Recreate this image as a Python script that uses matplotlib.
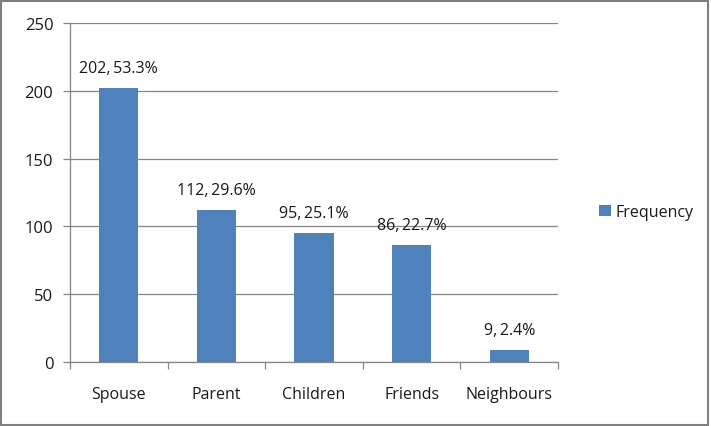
import matplotlib
matplotlib.use("Agg")
import matplotlib.pyplot as plt
from matplotlib.patches import Rectangle
import numpy as np

categories = ["Spouse", "Parent", "Children", "Friends", "Neighbours"]
frequency = [202, 112, 95, 86, 9]
percent = ["53.3%", "29.6%", "25.1%", "22.7%", "2.4%"]
yticks = [0, 50, 100, 150, 200, 250]

plt.rcParams['font.family'] = ['Open Sans', 'DejaVu Sans']
fig = plt.figure(figsize=(7.11, 4.27), dpi=100)
ax = fig.add_axes([70/711, 1-363/427, (558-70)/711, (363-24)/427])

bar_color = "#4F81BD"
grid_color = "#868686"
text_color = "#1a1a1a"
x = np.arange(len(categories))
ax.bar(x, frequency, width=0.4, color=bar_color, zorder=3, label="Frequency")
for xi, f, p in zip(x, frequency, percent):
    ax.text(xi, f + 9, f"{f},\u2009{p}", ha="center", va="bottom", fontsize=11.5, color=text_color)

ax.set_xlim(-0.5, len(categories) - 0.5)
ax.set_ylim(0, 250)
ax.set_yticks(yticks)
ax.set_yticklabels([str(t) for t in yticks], fontsize=12, color=text_color)
ax.yaxis.grid(True, color=grid_color, linewidth=0.9, zorder=0)
ax.set_xticks(x)
ax.set_xticklabels(categories, fontsize=11.5, color=text_color)
ax.tick_params(axis="x", which="major", length=0, pad=17)
ax.set_xticks(np.arange(-0.5, len(categories), 1.0), minor=True)
ax.tick_params(axis="x", which="minor", length=5, color=grid_color, width=0.9)
ax.tick_params(axis="y", length=5, color=grid_color, width=0.9, pad=7)
for s in ["top", "right"]:
    ax.spines[s].set_visible(False)
ax.spines["left"].set_color(grid_color)
ax.spines["bottom"].set_color(grid_color)
ax.spines["left"].set_linewidth(0.9)
ax.spines["bottom"].set_linewidth(0.9)

leg = fig.legend(loc="center left", bbox_to_anchor=(585/711, 1-213/427), frameon=False,
                 fontsize=11.5, handlelength=0.7, handleheight=0.7, handletextpad=0.3)
for t in leg.get_texts():
    t.set_color(text_color)

fig.patches.append(Rectangle((1/711, 1/427), 707/711, 424/427, transform=fig.transFigure,
                             fill=False, edgecolor="#808080", linewidth=1.5))
fig.savefig("out.png", dpi=100)
